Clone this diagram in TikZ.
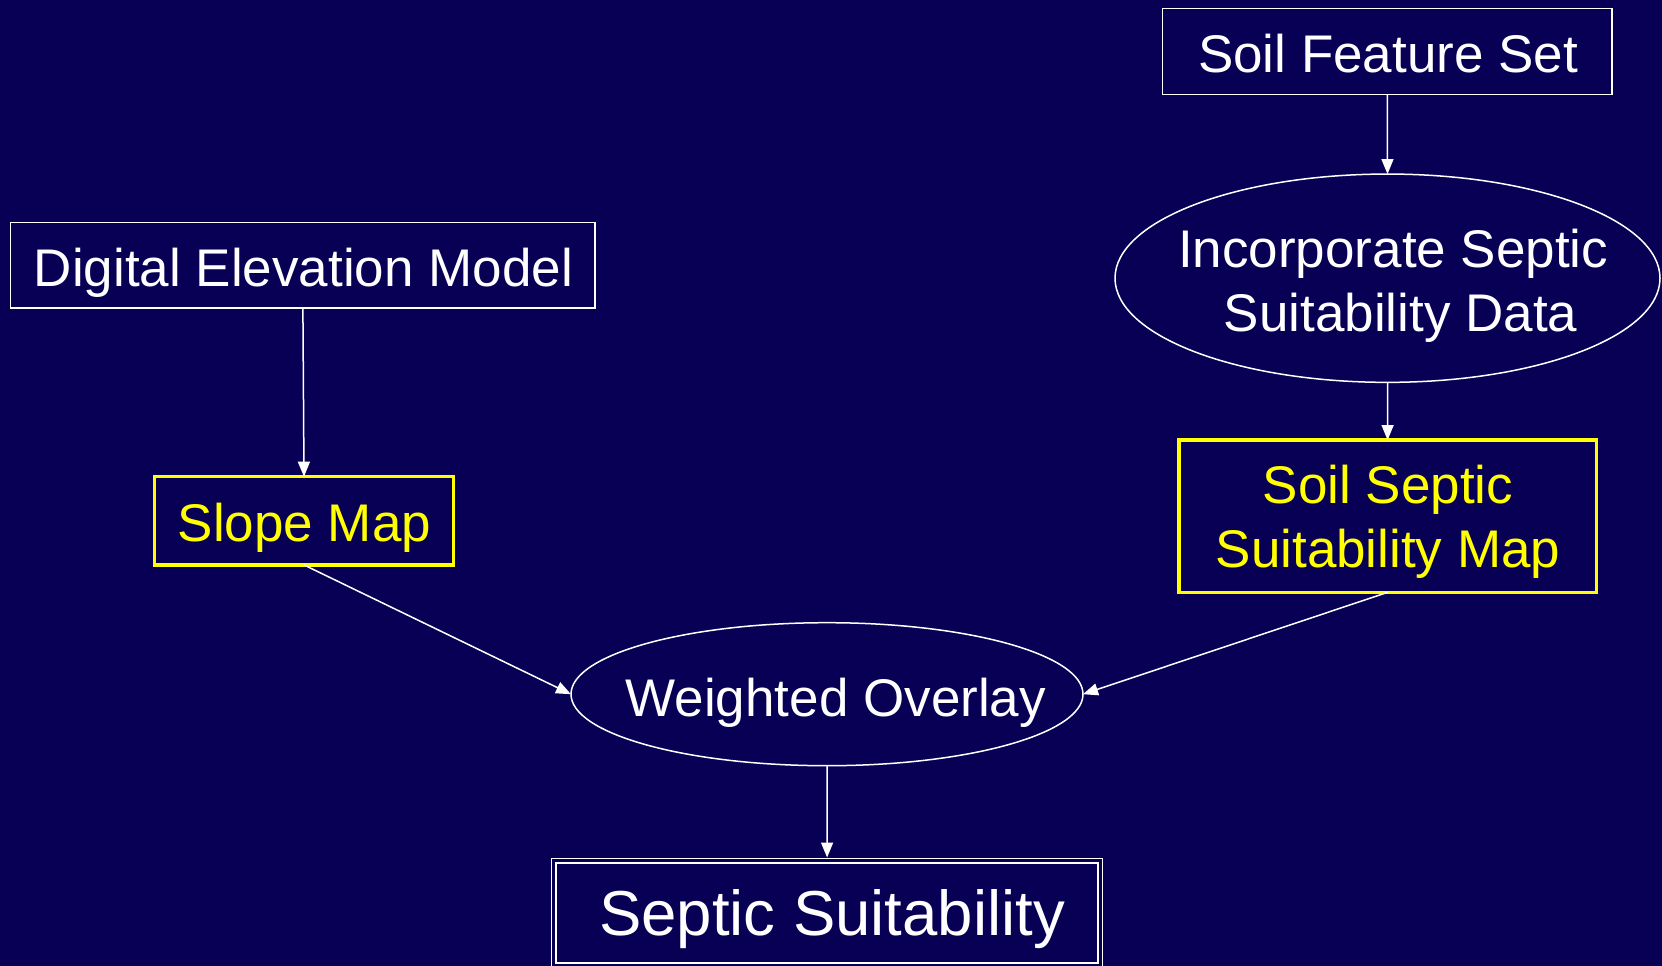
\documentclass[tikz,border=0pt]{standalone}
\usepackage{fontspec}
\setmainfont{Liberation Sans}
\usetikzlibrary{shapes.geometric,arrows.meta}
\definecolor{bg}{RGB}{8,0,84}
\definecolor{yel}{RGB}{255,255,0}
\begin{document}
\begin{tikzpicture}[x=1pt,y=-1pt,
  every node/.style={inner sep=0pt, outer sep=0pt},
  wbox/.style={draw=white, line width=1.5pt, rectangle},
  ybox/.style={draw=yel, line width=3.5pt, rectangle},
  well/.style={draw=white, line width=1.5pt, ellipse},
  dbox/.style={draw=white, line width=1.5pt, double=bg, double distance=3pt, rectangle, outer sep=3pt},
  lbl/.style={text=white, font=\fontsize{53}{64.5}\selectfont, anchor=base},
  ylbl/.style={lbl, text=yel},
  conn/.style={draw=white, line width=1.5pt, -{Triangle[length=15pt,width=12pt]}},
]
\fill[bg] (0,0) rectangle (1662,966);
\useasboundingbox (0,0) rectangle (1662,966);

% shapes
\node[wbox, minimum width=449.3pt, minimum height=86.4pt] (sfs) at (1387.3,51.5) {};
\node[well, minimum width=545pt, minimum height=208.3pt] (inc) at (1387.5,278.2) {};
\node[ybox, minimum width=417.5pt, minimum height=152.3pt] (ssm) at (1387.6,516.2) {};
\node[wbox, minimum width=584.4pt, minimum height=85.7pt] (dem) at (302.9,265.2) {};
\node[ybox, minimum width=298.9pt, minimum height=88.3pt] (slope) at (304,520.8) {};
\node[well, minimum width=512pt, minimum height=143pt] (wo) at (827,694.2) {};
\node[dbox, minimum width=546.25pt, minimum height=104.5pt] (ss) at (827.1,912.75) {};

% texts
\node[lbl] (sfs-t) at (1388,72) {Soil Feature Set};
\node[lbl, align=center, anchor=north] (inc-t) at (1400.7,228.7) {Incorporate Septic\kern15pt\\Suitability Data};
\node[ylbl, align=center, anchor=north] (ssm-t) at (1388,464.7) {Soil Septic\\Suitability Map};
\node[lbl] (dem-t) at (303.4,286) {Digital Elevation Model};
\node[ylbl] (slope-t) at (304.4,541.7) {Slope Map};
\node[lbl] (wo-t) at (835.8,716.7) {Weighted Overlay};
\node[lbl, font=\fontsize{63.5}{76}\selectfont] (ss-t) at (832,935) {Septic Suitability};

% connectors
\draw[conn] (sfs.south) -- (inc.north);
\draw[conn] (inc.south) -- (ssm.north);
\draw[conn] (dem.south) -- (slope.north);
\draw[conn] (slope.south) -- (wo.west);
\draw[conn] (ssm.south) -- (wo.east);
\draw[conn] (wo.south) -- (ss.north);
\end{tikzpicture}
\end{document}
